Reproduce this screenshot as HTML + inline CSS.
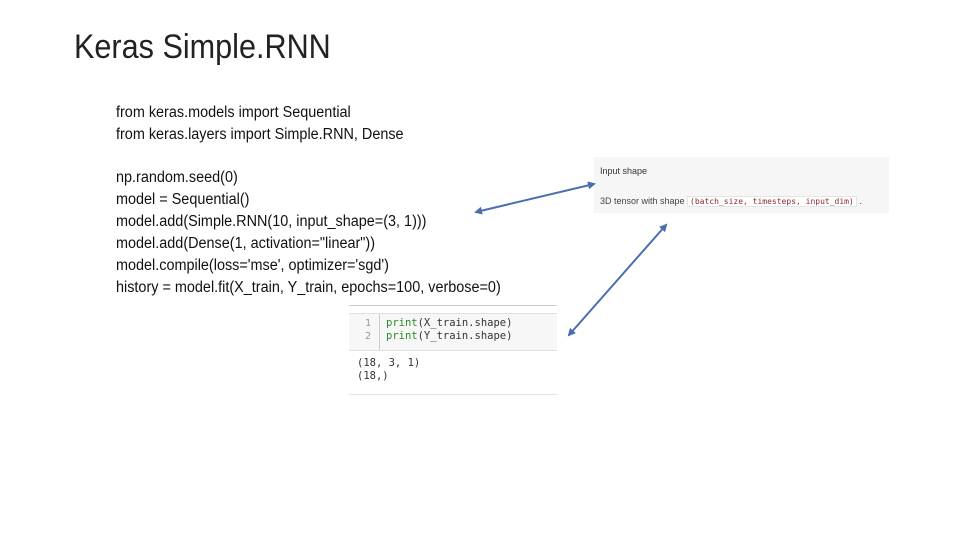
<!DOCTYPE html>
<html><head><meta charset="utf-8"><style>
body{margin:0;width:960px;height:540px;background:#fff;position:relative;overflow:hidden;font-family:"Liberation Sans",sans-serif;}
.t{position:absolute;left:74px;top:28px;font-size:34px;color:#222;white-space:nowrap;transform:scaleX(0.9);transform-origin:left top;}
.l{position:absolute;left:116px;font-size:15.5px;color:#111;white-space:nowrap;line-height:18px;transform:scaleX(0.93);transform-origin:left top;}
.box1{position:absolute;left:594px;top:157px;width:295px;height:56px;background:#f6f6f6;}
.box2{position:absolute;left:349px;top:305px;width:208px;height:90px;background:#fff;}
.mono{font-family:"DejaVu Sans Mono","Liberation Mono",monospace;}
</style></head><body>
<div class="t">Keras Simple.RNN</div>
<div class="l" style="top:104px">from keras.models import Sequential</div>
<div class="l" style="top:126px">from keras.layers import Simple.RNN, Dense</div>
<div class="l" style="top:169px">np.random.seed(0)</div>
<div class="l" style="top:191px">model = Sequential()</div>
<div class="l" style="top:213px">model.add(Simple.RNN(10, input_shape=(3, 1)))</div>
<div class="l" style="top:235px">model.add(Dense(1, activation="linear"))</div>
<div class="l" style="top:257px">model.compile(loss='mse', optimizer='sgd')</div>
<div class="l" style="top:279px">history = model.fit(X_train, Y_train, epochs=100, verbose=0)</div>

<div class="box1">
<div style="position:absolute;left:6px;top:9px;font-size:9px;color:#333;">Input shape</div>
<div style="position:absolute;left:6px;top:39px;font-size:9px;color:#444;white-space:nowrap;">3D tensor with shape <span class="mono" style="background:#fff;border:1px solid #e4e4e4;color:#8a2a2a;font-size:8px;padding:0 2px;">(batch_size, timesteps, input_dim)</span> .</div>
</div>

<div class="box2">
<div style="position:absolute;left:0;top:0;width:208px;height:1px;background:#ccc;"></div>
<div style="position:absolute;left:0;top:8px;width:208px;height:36px;background:#f7f7f7;border-top:1px solid #e0e0e0;border-bottom:1px solid #e0e0e0;"></div>
<div style="position:absolute;left:30px;top:9px;width:1px;height:36px;background:#ccc;"></div>
<div class="mono" style="position:absolute;left:16px;top:12px;font-size:10px;line-height:13px;color:#999;">1<br>2</div>
<div class="mono" style="position:absolute;left:37px;top:12px;font-size:10.5px;line-height:13px;color:#333;white-space:nowrap;"><span style="color:#2a8a2a">print</span>(X_train.shape)<br><span style="color:#2a8a2a">print</span>(Y_train.shape)</div>
<div class="mono" style="position:absolute;left:8px;top:52px;font-size:10.5px;line-height:13px;color:#333;white-space:pre;">(18, 3, 1)
(18,)</div>
<div style="position:absolute;left:0;top:89px;width:208px;height:1px;background:#e4e4e4;"></div>
</div>

<svg width="960" height="540" style="position:absolute;left:0;top:0">
<defs><marker id="a" markerWidth="8" markerHeight="8" refX="6" refY="4" orient="auto-start-reverse" markerUnits="userSpaceOnUse"><path d="M0,0 L8,4 L0,8 z" fill="#4a6fb0"/></marker></defs>
<line x1="476" y1="212" x2="594" y2="184" stroke="#4a6fb0" stroke-width="2" marker-start="url(#a)" marker-end="url(#a)"/>
<line x1="569" y1="335" x2="666" y2="225" stroke="#4a6fb0" stroke-width="2" marker-start="url(#a)" marker-end="url(#a)"/>
</svg>
</body></html>
